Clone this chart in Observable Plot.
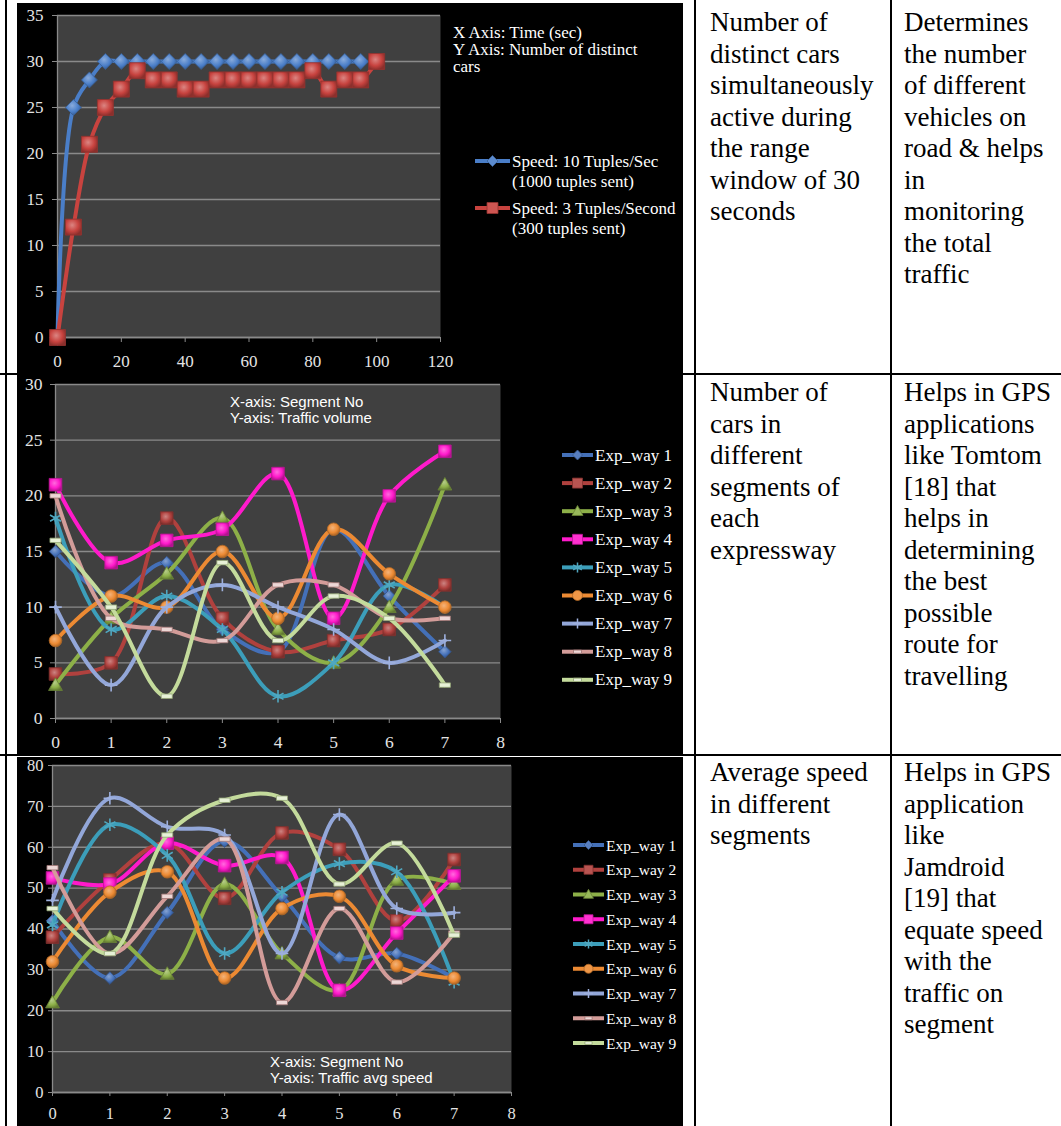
<!DOCTYPE html>
<html><head><meta charset="utf-8">
<script src="https://cdn.jsdelivr.net/npm/d3@7"></script>
<script src="https://cdn.jsdelivr.net/npm/@observablehq/plot@0.6"></script>
<style>
body{margin:0;background:#fff;width:1061px;height:1126px;position:relative;overflow:hidden;font-family:"Liberation Serif","Times New Roman",serif;}
.vline{position:absolute;background:#000;width:2px;top:0;height:1126px}
.hline{position:absolute;background:#000;height:2px;left:0;width:1061px}
.cell{position:absolute;font-size:27px;line-height:31.5px;color:#000;white-space:nowrap}
.chart{position:absolute;left:17px;width:666px;background:#000}
.chart svg{display:block}
.chart svg text{font-family:"Liberation Serif","Times New Roman",serif}
#overlay{position:absolute;left:0;top:0;pointer-events:none}
</style></head><body>
<script>
// ---------- DATA ----------
// Chart 1: distinct cars vs time
const time1 = [0,5,10,15,20,25,30,35,40,45,50,55,60,65,70,75,80,85,90,95,100];
const rate10 = [0,25,28,30,30,30,30,30,30,30,30,30,30,30,30,30,30,30,30,30];
const rate3 = [0,12,21,25,27,29,28,28,27,27,28,28,28,28,28,28,29,27,28,28,30];
const chart1Names = ["Speed: 10 Tuples/Sec", "Speed: 3 Tuples/Second"];
const chart1Sub = ["(1000 tuples sent)", "(300 tuples sent)"];
const x1Ticks = [0,20,40,60,80,100,120];
const y1Ticks = [0,5,10,15,20,25,30,35];

// Chart 2 & 3 shared
const segments = [0,1,2,3,4,5,6,7];
const segTicks = [0,1,2,3,4,5,6,7,8];
const expNames = ["Exp_way 1","Exp_way 2","Exp_way 3","Exp_way 4","Exp_way 5","Exp_way 6","Exp_way 7","Exp_way 8","Exp_way 9"];

// Chart 2: traffic volume
const vol1 = [15,11,14,8,6,17,11,6];
const vol2 = [4,5,18,9,6,7,8,12];
const vol3 = [3,9,13,18,8,5,10,21];
const vol4 = [21,14,16,17,22,9,20,24];
const vol5 = [18,8,11,8,2,5,12,10];
const vol6 = [7,11,10,15,9,17,13,10];
const vol7 = [10,3,10,12,10,8,5,7];
const vol8 = [20,9,8,7,12,12,9,9];
const vol9 = [16,10,2,14,7,11,9,3];
const y2Ticks = [0,5,10,15,20,25,30];

// Chart 3: average speed
const spd1 = [42,28,44,61.5,48,33,34,28];
const spd2 = [38,52,61,47.5,63.5,59.5,42,57];
const spd3 = [22,38,29,51,34,25,52,51];
const spd4 = [52.5,51,61,55.5,57.5,25,39,53];
const spd5 = [41,65.5,58,34,49,56,54,27];
const spd6 = [32,49,54,28,45,48,31,28];
const spd7 = [47,72,65,63,34,68,45,44];
const spd8 = [55,34,48,62,22,45,27,39];
const spd9 = [45,34,63,71.5,72,51,61,38.5];
const y3Ticks = [0,10,20,30,40,50,60,70,80];

// ---------- STYLE ----------
const expColors = ["#4470B8","#B0413E","#8DB048","#FF1ACB","#3C9EBA","#EC8A33","#93A7D9","#D39C99","#C4DB9C"];
const expShapes = ["diamond","square","triangle","square","asterisk","circle","plus","dash","dash"];
const c1Colors = ["#4A7EC8","#C8433F"];
const c1Shapes = ["diamond","square"];
const GRID = "#8a8a8a", AREA = "#404040", TICKTXT = "#e4e4e4";
const SERIF = "'Liberation Serif', 'Times New Roman', serif";
const SANS = "'Liberation Sans', Arial, sans-serif";

function drawShape(kind, c, r) {
  switch (kind) {
    case "diamond": c.moveTo(0,-r); c.lineTo(r,0); c.lineTo(0,r); c.lineTo(-r,0); c.closePath(); break;
    case "square": c.moveTo(-r,-r); c.lineTo(r,-r); c.lineTo(r,r); c.lineTo(-r,r); c.closePath(); break;
    case "triangle": c.moveTo(0,-r*1.15); c.lineTo(r*1.1,r*0.85); c.lineTo(-r*1.1,r*0.85); c.closePath(); break;
    case "circle": c.moveTo(r,0); c.arc(0,0,r,0,2*Math.PI); c.closePath(); break;
    case "asterisk": { const a=r*0.87,b=r*0.5; c.moveTo(0,-r); c.lineTo(0,r); c.moveTo(-a,-b); c.lineTo(a,b); c.moveTo(-a,b); c.lineTo(a,-b); break; }
    case "plus": c.moveTo(0,-r); c.lineTo(0,r); c.moveTo(-r,0); c.lineTo(r,0); break;
    case "dash": c.moveTo(-r*0.8,-r*0.32); c.lineTo(r*0.8,-r*0.32); c.lineTo(r*0.8,r*0.32); c.lineTo(-r*0.8,r*0.32); c.closePath(); break;
  }
}
const symOf = kind => ({draw(ctx, size){ drawShape(kind, ctx, Math.sqrt(size/Math.PI)); }});
const isStroked = k => k === "asterisk" || k === "plus";
const lighten = (c,t) => d3.interpolateRgb(c,"#ffffff")(t);
const darken = (c,t) => d3.interpolateRgb(c,"#000000")(t);

function gradDefs(prefix, colors) {
  return colors.map((c,i) => `<radialGradient id="${prefix}${i}" cx="0.42" cy="0.38" r="0.65">
    <stop offset="0" stop-color="${lighten(c,0.35)}"/><stop offset="0.6" stop-color="${c}"/><stop offset="1" stop-color="${darken(c,0.3)}"/></radialGradient>`).join("");
}

function markerFill(prefix, i, kind, color) {
  if (isStroked(kind)) return "none";
  if (kind === "dash") return lighten(color, 0.6);
  return `url(#${prefix}${i})`;
}

function buildChart(cfg) {
  const txtOpts = {fontFamily: SERIF, fontSize: cfg.fs, fill: TICKTXT};
  const marks = [
    Plot.frame({fill: AREA}),
    Plot.gridY(cfg.yTicks, {stroke: GRID, strokeOpacity: 1, strokeWidth: 1.3}),
    Plot.ruleX([0], {stroke: GRID, strokeWidth: 1.3}),
    Plot.ruleY([0], {stroke: GRID, strokeWidth: 1.3}),
    Plot.axisY(cfg.yTicks, {tickSize: cfg.tsY, tickPadding: cfg.tpY, stroke: GRID, label: null, ...txtOpts}),
    Plot.axisX(cfg.xTicks, {tickSize: cfg.tsX, tickPadding: cfg.tpX, stroke: GRID, label: null, ...txtOpts})
  ];
  cfg.series.forEach((s, i) => {
    const rows = s.y.map((v, j) => ({x: s.x[j], y: v}));
    marks.push(Plot.line(rows, {x: "x", y: "y", stroke: s.color, strokeWidth: cfg.lw, curve: "catmull-rom"}));
    marks.push(Plot.dot(rows, {x: "x", y: "y", r: cfg.r * (s.shape === "dash" ? 1.1 : 1), symbol: symOf(s.shape),
      fill: markerFill(cfg.prefix, i, s.shape, s.color),
      stroke: isStroked(s.shape) ? lighten(s.color, 0.1) : darken(s.color, 0.25),
      strokeWidth: isStroked(s.shape) ? 1.6 : 0.8}));
  });
  const svg = Plot.plot({
    width: 666, height: cfg.height,
    marginLeft: cfg.ml, marginRight: cfg.mr, marginTop: cfg.mt, marginBottom: cfg.mb,
    style: {background: "#000", color: TICKTXT, fontFamily: SERIF, fontSize: cfg.fs + "px", overflow: "visible"},
    x: {domain: cfg.xDomain},
    y: {domain: cfg.yDomain},
    marks
  });
  d3.select(svg).insert("defs", ":first-child").html(gradDefs(cfg.prefix, cfg.series.map(s => s.color)));
  const box = document.createElement("div");
  box.className = "chart";
  box.style.top = cfg.top + "px";
  box.style.height = cfg.height + "px";
  box.appendChild(svg);
  document.body.appendChild(box);
}

// Chart 1
buildChart({
  prefix: "g1_", top: 3, height: 370, ml: 40, mr: 243, mt: 12, mb: 36,
  xDomain: [0,120], yDomain: [0,35], xTicks: x1Ticks, yTicks: y1Ticks,
  tsY: 5, tpY: 9, tsX: 5, tpX: 12, fs: 17, lw: 4, r: 8,
  series: [
    {x: time1.slice(0, rate10.length), y: rate10, color: c1Colors[0], shape: c1Shapes[0]},
    {x: time1, y: rate3, color: c1Colors[1], shape: c1Shapes[1]}
  ]
});
// Chart 2
const volSeries = [vol1,vol2,vol3,vol4,vol5,vol6,vol7,vol8,vol9];
buildChart({
  prefix: "g2_", top: 375, height: 379, ml: 38, mr: 183, mt: 9, mb: 36,
  xDomain: [0,8], yDomain: [0,30], xTicks: segTicks, yTicks: y2Ticks,
  tsY: 5, tpY: 8, tsX: 5, tpX: 12, fs: 17.5, lw: 4, r: 6.3,
  series: volSeries.map((v,i) => ({x: segments, y: v, color: expColors[i], shape: expShapes[i]}))
});
// Chart 3
const spdSeries = [spd1,spd2,spd3,spd4,spd5,spd6,spd7,spd8,spd9];
buildChart({
  prefix: "g3_", top: 757, height: 369, ml: 35, mr: 172, mt: 8, mb: 34,
  xDomain: [0,8], yDomain: [0,80], xTicks: segTicks, yTicks: y3Ticks,
  tsY: 4, tpY: 5, tsX: 4, tpX: 11, fs: 16.5, lw: 4, r: 6.3,
  series: spdSeries.map((v,i) => ({x: segments, y: v, color: expColors[i], shape: expShapes[i]}))
});

// ---------- Overlay: legends, annotations ----------
const ov = d3.select(document.body).append("svg").attr("id","overlay").attr("width",1061).attr("height",1126);
function legendSwatch(x0, x1, y, color, shape, r) {
  ov.append("line").attr("x1",x0).attr("x2",x1).attr("y1",y).attr("y2",y).attr("stroke",color).attr("stroke-width",4);
  const p = d3.path(); drawShape(shape, p, r);
  ov.append("path").attr("d", p.toString()).attr("transform",`translate(${(x0+x1)/2},${y})`)
    .attr("fill", isStroked(shape) ? "none" : (shape === "dash" ? lighten(color,0.6) : lighten(color,0.1)))
    .attr("stroke", isStroked(shape) ? lighten(color,0.1) : darken(color,0.25))
    .attr("stroke-width", isStroked(shape) ? 1.5 : 0.8);
}
function txt(x, y, s, size, family) {
  ov.append("text").attr("x",x).attr("y",y).attr("dominant-baseline","central")
    .attr("fill","#fff").attr("font-size",size).attr("font-family",family || SERIF).text(s);
}
// chart 1 annotation + legend
txt(453, 32, "X Axis: Time (sec)", 17);
txt(453, 49, "Y Axis: Number of distinct", 17);
txt(453, 66, "cars", 17);
chart1Names.forEach((n,i) => {
  const y = [161, 208][i];
  legendSwatch(475, 510, y, c1Colors[i], c1Shapes[i], 5.5);
  txt(512, y, n, 17);
  txt(512, y + 20, chart1Sub[i], 17);
});
// chart 2
txt(230, 401, "X-axis: Segment No", 15, SANS);
txt(230, 417, "Y-axis: Traffic volume", 15, SANS);
expNames.forEach((n,i) => {
  const y = 455 + i * 28.1;
  legendSwatch(562, 593, y, expColors[i], expShapes[i], 5);
  txt(595, y, n, 17);
});
// chart 3
txt(270, 1061, "X-axis: Segment No", 15, SANS);
txt(270, 1077, "Y-axis: Traffic avg speed", 15, SANS);
expNames.forEach((n,i) => {
  const y = 845 + i * 24.75;
  legendSwatch(573, 604, y, expColors[i], expShapes[i], 4.5);
  txt(606, y, n, 15.5);
});

// ---------- Table text ----------
const cellText = [
  {x: 710, y: 7, lines: ["Number of","distinct cars","simultaneously","active during","the range","window of 30","seconds"]},
  {x: 904, y: 7, lines: ["Determines","the number","of different","vehicles on","road & helps","in","monitoring","the total","traffic"]},
  {x: 710, y: 377, lines: ["Number of","cars in","different","segments of","each","expressway"]},
  {x: 904, y: 377, lines: ["Helps in GPS","applications","like Tomtom","[18] that","helps in","determining","the best","possible","route for","travelling"]},
  {x: 710, y: 757, lines: ["Average speed","in different","segments"]},
  {x: 904, y: 757, lines: ["Helps in GPS","application","like","Jamdroid","[19] that","equate speed","with the","traffic on","segment"]}
];
cellText.forEach(c => {
  const d = document.createElement("div");
  d.className = "cell"; d.style.left = c.x + "px"; d.style.top = c.y + "px";
  c.lines.forEach((l,i) => { if (i) d.appendChild(document.createElement("br")); d.appendChild(document.createTextNode(l)); });
  document.body.appendChild(d);
});
// table rules
[5, 694, 890].forEach(x => { const v = document.createElement("div"); v.className="vline"; v.style.left = x+"px"; document.body.appendChild(v); });
[373, 754].forEach(y => { const h = document.createElement("div"); h.className="hline"; h.style.top = y+"px"; document.body.appendChild(h); });
</script>
</body></html>
